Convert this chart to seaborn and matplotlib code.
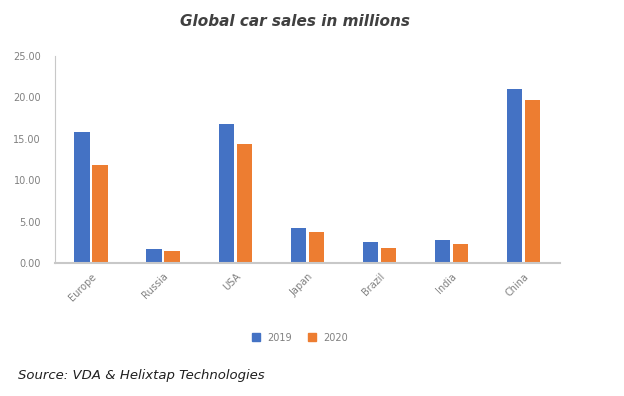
import matplotlib
matplotlib.use("Agg")
import matplotlib.pyplot as plt
import seaborn as sns
import pandas as pd

regions = ["Europe", "Russia", "USA", "Japan", "Brazil", "India", "China"]
sales_2019 = [15.8, 1.7, 16.8, 4.2, 2.5, 2.8, 21.0]
sales_2020 = [11.8, 1.5, 14.3, 3.7, 1.8, 2.3, 19.7]
years = ["2019", "2020"]
colors = ["#4472C4", "#ED7D31"]

df = pd.DataFrame({
    "region": regions * 2,
    "sales": sales_2019 + sales_2020,
    "year": [years[0]] * len(regions) + [years[1]] * len(regions),
})

sns.set_style("white")
plt.rcParams['font.family'] = ['DejaVu Sans']

fig = plt.figure(figsize=(6.24, 3.96), dpi=100)
ax = fig.add_axes([0.088, 0.336, 0.809, 0.523])

sns.barplot(data=df, x="region", y="sales", hue="year",
            palette=colors, saturation=1, width=0.5, gap=0.15,
            linewidth=0, ax=ax, legend=False)

ax.set_ylim(0, 25)
ax.set_yticks([0, 5, 10, 15, 20, 25])
ax.set_yticklabels([f"{v:.2f}" for v in [0, 5, 10, 15, 20, 25]])
ax.set_xlim(-0.5, 6.5)
ax.set_xlabel("")
ax.set_ylabel("")
ax.tick_params(axis="y", labelsize=7, colors="#808080", length=0, pad=10)
ax.tick_params(axis="x", labelsize=7, colors="#808080", length=0, pad=6)
for lbl in ax.get_xticklabels():
    lbl.set_rotation(45)
    lbl.set_ha("right")
    lbl.set_rotation_mode("anchor")

for side in ["top", "right"]:
    ax.spines[side].set_visible(False)
ax.spines["left"].set_color("#c8c8c8")
ax.spines["bottom"].set_color("#c8c8c8")
ax.spines["bottom"].set_linewidth(1.5)

fig.text(0.473, 0.945, "Global car sales in millions", ha="center", va="center",
         fontsize=11, fontweight="bold", fontstyle="italic", color="#404040")

handles = [plt.Line2D([], [], marker="s", ls="", color=c, markersize=6)
           for c in colors]
fig.legend(handles, years, loc="center", bbox_to_anchor=(0.476, 0.147), ncol=2,
           frameon=False, fontsize=7, labelcolor="#808080",
           handletextpad=0.2, columnspacing=1.0)

fig.text(0.029, 0.053, "Source: VDA & Helixtap Technologies", ha="left", va="center",
         fontsize=9.5, fontstyle="italic", color="#202020")

fig.savefig("out.png", dpi=100)
